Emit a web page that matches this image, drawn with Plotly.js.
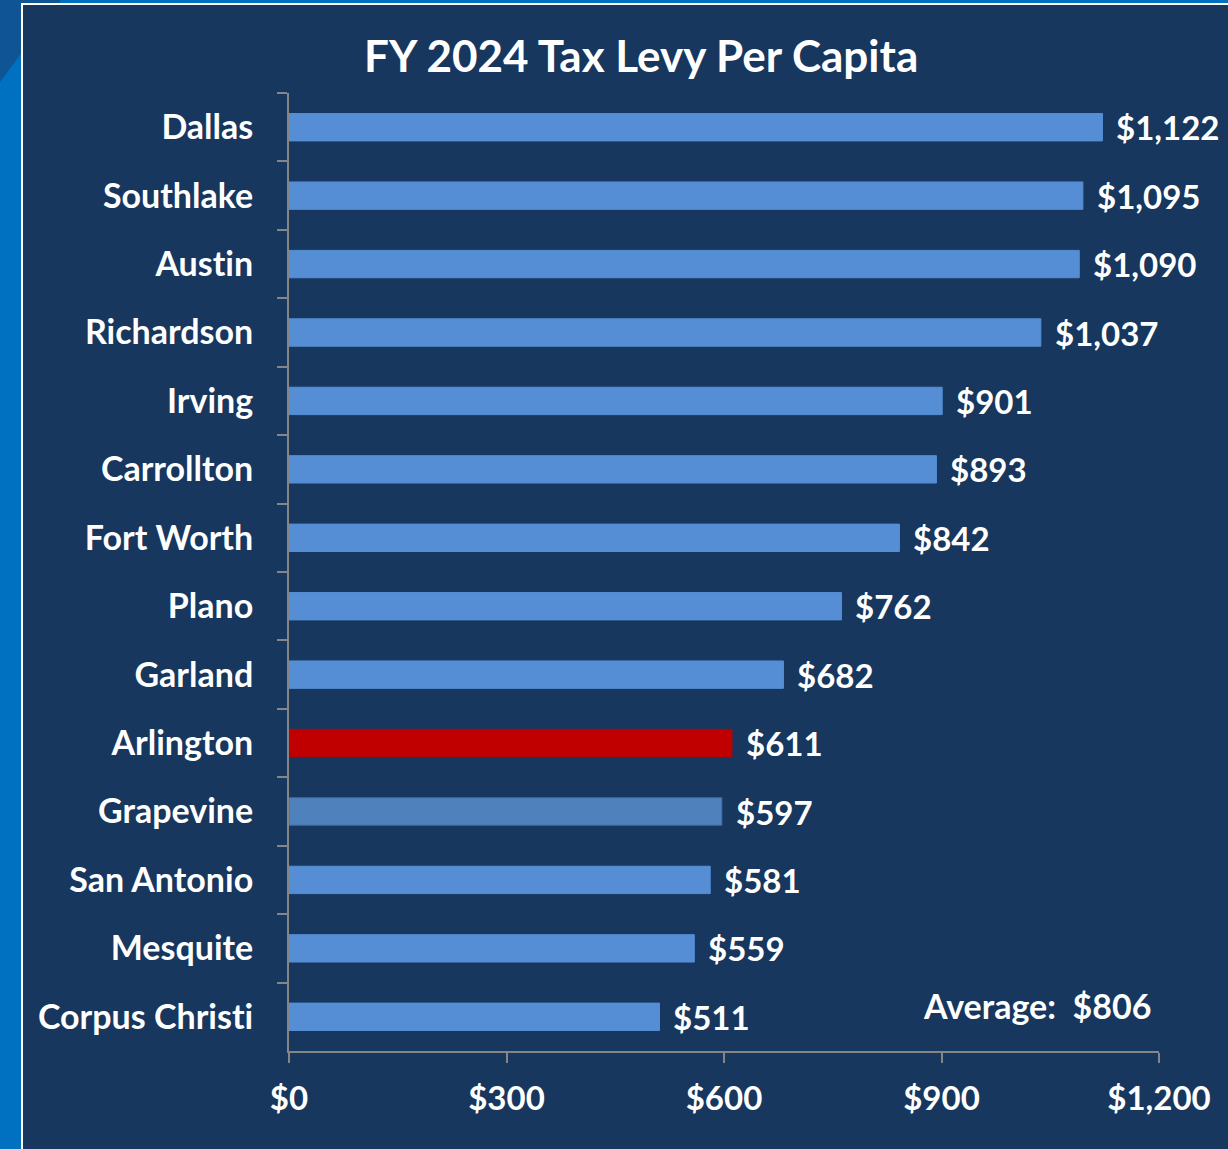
<!DOCTYPE html>
<html>
<head>
<meta charset="utf-8">
<script src="https://cdn.plot.ly/plotly-3.0.1.min.js"></script>
<style>
  html, body { margin: 0; padding: 0; width: 1228px; height: 1149px; overflow: hidden; background: #0070c0; }
  #corner { position: absolute; left: 0; top: 0; width: 70px; height: 90px; background: #0f5596;
            clip-path: polygon(0 0, 61px 0, 0 82px); }
  #frame { position: absolute; left: 21px; top: 3px; width: 1207px; height: 1146px; background: #ffffff; }
  #chart { position: absolute; left: 23px; top: 5px; width: 1205px; height: 1144px; }
  #chart text { font-variant-ligatures: none; font-feature-settings: "liga" 0; }
</style>
</head>
<body>
<div id="corner"></div>
<div id="frame"></div>
<div id="chart"></div>
<script>
const cities = ["Dallas", "Southlake", "Austin", "Richardson", "Irving", "Carrollton", "Fort Worth",
                "Plano", "Garland", "Arlington", "Grapevine", "San Antonio", "Mesquite", "Corpus Christi"];
const levyPerCapita = [1122, 1095, 1090, 1037, 901, 893, 842, 762, 682, 611, 597, 581, 559, 511];
const averageLevy = 806;
const xTickValues = [0, 300, 600, 900, 1200];
const xTickLabels = ["$0", "$300", "$600", "$900", "$1,200"];

const barColors = cities.map(c => c === "Arlington" ? "#c00000" : (c === "Grapevine" ? "#4f81bd" : "#558ed5"));
const lineColors = cities.map(c => c === "Arlington" ? "#c00000" : (c === "Grapevine" ? "#3f6fa8" : "#558ed5"));
const fmt = v => "$" + v.toLocaleString("en-US");

const FONT = "Lato, 'Open Sans', sans-serif";
const navy = "#17375e";

const trace = {
  type: "bar",
  orientation: "h",
  x: levyPerCapita,
  y: cities,
  marker: { color: barColors, line: { color: lineColors, width: 1 } },
  hoverinfo: "none"
};

const annotations = levyPerCapita.map((v, i) => ({
  x: v, y: cities[i], xref: "x", yref: "y",
  text: fmt(v), showarrow: false, xanchor: "left", yanchor: "middle", xshift: 12,
  font: { family: FONT, size: 33, color: "#ffffff", weight: "bold" }
}));
annotations.push({
  x: 872, y: cities[cities.length - 1], xref: "x", yref: "y",
  text: "Average:\u00a0 " + fmt(averageLevy), showarrow: false, xanchor: "left", yanchor: "middle", yshift: 11,
  font: { family: FONT, size: 34, color: "#ffffff", weight: "bold" }
});

const layout = {
  width: 1205, height: 1144,
  paper_bgcolor: navy, plot_bgcolor: navy,
  margin: { l: 266, r: 69, t: 88, b: 98 },
  bargap: 0.6,
  showlegend: false,
  title: {
    text: "FY 2024 Tax Levy Per Capita",
    xref: "container", yref: "container", x: 0.513, y: 0.9545, xanchor: "center", yanchor: "middle",
    font: { family: FONT, size: 44, color: "#ffffff", weight: "bold" }
  },
  xaxis: {
    range: [0, 1200], tickvals: xTickValues, ticktext: xTickLabels,
    showgrid: false, zeroline: false, showline: true, linecolor: "#868686", linewidth: 2,
    ticks: "outside", ticklen: 10, tickwidth: 2, tickcolor: "#868686",
    ticklabelstandoff: 7,
    tickfont: { family: FONT, size: 33, color: "#ffffff", weight: "bold" }
  },
  yaxis: {
    type: "category", autorange: "reversed", tickson: "boundaries",
    showgrid: false, zeroline: false, showline: true, linecolor: "#868686", linewidth: 2,
    ticks: "outside", ticklen: 10, tickwidth: 2, tickcolor: "#868686",
    ticklabelstandoff: 27,
    tickfont: { family: FONT, size: 34, color: "#ffffff", weight: "bold" }
  },
  annotations: annotations
};

Plotly.newPlot("chart", [trace], layout, { staticPlot: true, displayModeBar: false });
</script>
</body>
</html>
